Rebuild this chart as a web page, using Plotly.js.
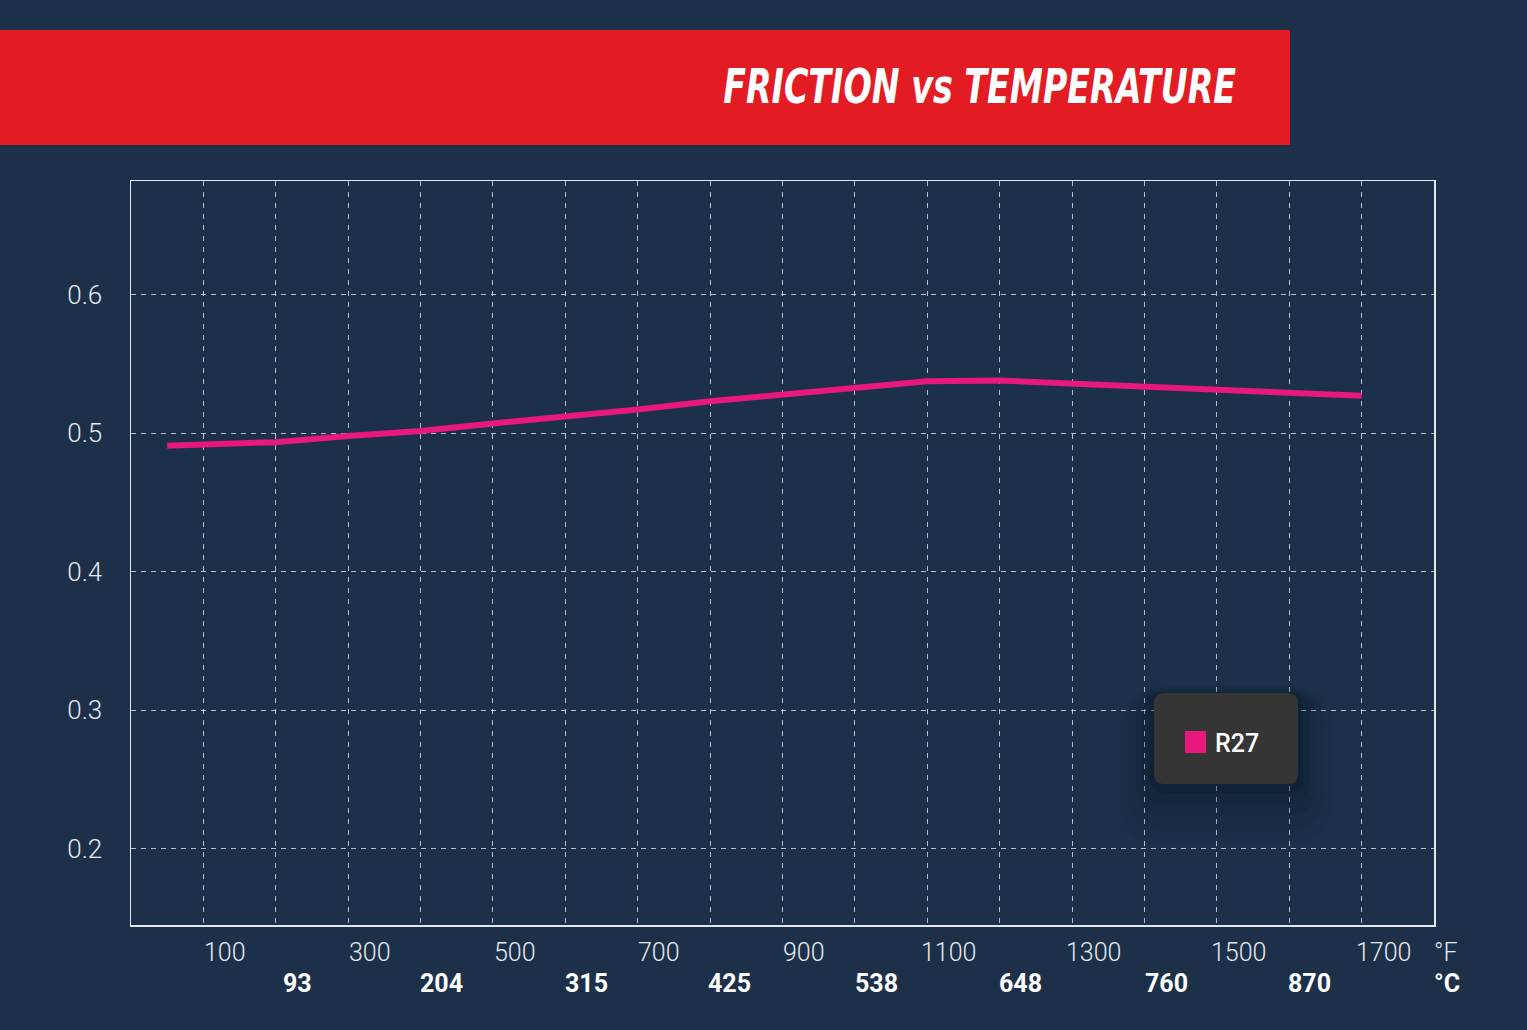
<!DOCTYPE html>
<html>
<head>
<meta charset="utf-8">
<script src="https://cdn.plot.ly/plotly-3.0.1.min.js"></script>
<style>
  html, body { margin: 0; padding: 0; background: #1c3049; }
  #chart { width: 1527px; height: 1030px; }
</style>
</head>
<body>
<div id="chart"></div>
<script>
// friction coefficient, x in degrees F
var tempF = [20, 170, 270, 370, 470, 570, 670, 770, 870, 970, 1070, 1170, 1270, 1370, 1470, 1570, 1670];
var frictionR27 = [0.491, 0.4935, 0.498, 0.5015, 0.507, 0.5115, 0.517, 0.523, 0.528, 0.533, 0.5375, 0.538, 0.536, 0.534, 0.531, 0.5295, 0.527];

var fLabels = [100, 300, 500, 700, 900, 1100, 1300, 1500, 1700];
var cLabels = [93, 204, 315, 425, 538, 648, 760, 870];
var yTicks = [0.2, 0.3, 0.4, 0.5, 0.6];

var chartTitle = "FRICTION vs TEMPERATURE";
var seriesName = "R27";
var pink = "#e8197d";

// plot area in pixels
var L = 131, R = 1434, T = 181, B = 925;
var W = R - L, H = B - T;
function px(x) { return (x - L) / W; }
function py(y) { return (B - y) / H; }

function roundRect(x0, y0, x1, y1, r) {
  var a = px(x0), b = px(x1), c = py(y0), d = py(y1);
  var rx = r / W, ry = r / H;
  return "M" + (a + rx) + "," + c +
    " L" + (b - rx) + "," + c + " Q" + b + "," + c + " " + b + "," + (c - ry) +
    " L" + b + "," + (d + ry) + " Q" + b + "," + d + " " + (b - rx) + "," + d +
    " L" + (a + rx) + "," + d + " Q" + a + "," + d + " " + a + "," + (d + ry) +
    " L" + a + "," + (c - ry) + " Q" + a + "," + c + " " + (a + rx) + "," + c + " Z";
}

var trace = {
  x: tempF,
  y: frictionR27,
  name: seriesName,
  type: "scatter",
  mode: "lines",
  line: { color: pink, width: 6 },
  hoverinfo: "skip"
};

var tickFont = { family: "Roboto", size: 25, color: "#e6e9ee", weight: 300 };
var boldFont = { family: "Roboto", size: 25, color: "#ffffff", weight: 700 };

var annotations = [];
fLabels.forEach(function (f) {
  annotations.push({
    x: f, y: py(952), xref: "x", yref: "paper",
    text: String(f), showarrow: false, xanchor: "center", yanchor: "middle",
    font: tickFont
  });
});
cLabels.forEach(function (c) {
  annotations.push({
    x: c * 9 / 5 + 32, y: py(983), xref: "x", yref: "paper",
    text: String(c), showarrow: false, xanchor: "center", yanchor: "middle",
    font: boldFont
  });
});
annotations.push({
  x: px(1446), y: py(952), xref: "paper", yref: "paper", text: "°F",
  showarrow: false, xanchor: "center", yanchor: "middle", font: tickFont
});
annotations.push({
  x: px(1447), y: py(983), xref: "paper", yref: "paper", text: "°C",
  showarrow: false, xanchor: "center", yanchor: "middle", font: boldFont
});
// title on the red banner (squeezed to the narrow width after drawing)
var titleLeft = 723, titleRight = 1236;
annotations.push({
  x: px((titleLeft + titleRight) / 2), y: py(86), xref: "paper", yref: "paper",
  text: "<b><i>" + chartTitle + "</i></b>",
  showarrow: false, xanchor: "center", yanchor: "middle",
  font: { family: "DejaVu Sans Condensed, DejaVu Sans, sans-serif", stretch: "condensed", size: 48, color: "#ffffff" }
});
// legend label
annotations.push({
  x: px(1213), y: py(743), xref: "paper", yref: "paper", text: seriesName,
  showarrow: false, xanchor: "left", yanchor: "middle",
  font: { family: "Roboto", size: 25, color: "#ffffff", weight: 500 }
});

var shapes = [
  { type: "rect", xref: "paper", yref: "paper", layer: "below",
    x0: px(0), x1: px(1290), y0: py(145), y1: py(30),
    fillcolor: "#e31b23", line: { width: 0 } }
];
// soft shadow under the legend box
[[34, 0.04], [26, 0.05], [18, 0.07], [11, 0.09], [5, 0.12]].forEach(function (s) {
  shapes.push({
    type: "path", xref: "paper", yref: "paper", layer: "above",
    path: roundRect(1154 - s[0], 693 - s[0] * 0.2, 1298 + s[0], 784 + s[0] * 1.8, 12 + s[0]),
    fillcolor: "rgba(5,10,20," + s[1] + ")", line: { width: 0 }
  });
});
shapes.push({
  type: "path", xref: "paper", yref: "paper", layer: "above",
  path: roundRect(1154, 693, 1298, 784, 10),
  fillcolor: "#353535", line: { width: 0 }
});
shapes.push({
  type: "rect", xref: "paper", yref: "paper", layer: "above",
  x0: px(1185), x1: px(1206), y0: py(753), y1: py(731),
  fillcolor: pink, line: { width: 0 }
});

var gridColor = "rgba(235,238,245,0.75)";

var layout = {
  width: 1527,
  height: 1030,
  margin: { l: L, r: 1527 - R, t: T, b: 1030 - B, pad: 0 },
  paper_bgcolor: "#1c3049",
  plot_bgcolor: "#1c3049",
  showlegend: false,
  xaxis: {
    range: [-30, 1770],
    tick0: 70,
    dtick: 100,
    showticklabels: false,
    ticks: "",
    showgrid: true,
    gridcolor: gridColor,
    gridwidth: 1,
    griddash: "5px,6px",
    zeroline: false,
    showline: true,
    mirror: true,
    linecolor: "#e4e8ee",
    linewidth: 1.5
  },
  yaxis: {
    range: [0.145, 0.682],
    tickvals: yTicks,
    ticktext: yTicks.map(function (v) { return v.toFixed(1); }),
    ticks: "",
    ticklabelstandoff: 22,
    tickfont: { family: "Roboto", size: 26, color: "#e6e9ee", weight: 300 },
    showgrid: true,
    gridcolor: gridColor,
    gridwidth: 1,
    griddash: "5px,5px",
    zeroline: false,
    showline: true,
    mirror: true,
    linecolor: "#e4e8ee",
    linewidth: 1.5
  },
  annotations: annotations,
  shapes: shapes
};

Plotly.newPlot("chart", [trace], layout, { displayModeBar: false, staticPlot: true }).then(function (gd) {
  // the reference title uses a very condensed face; squeeze the text to its width
  gd.querySelectorAll(".annotation-text").forEach(function (t) {
    if (t.textContent === chartTitle) {
      t.setAttribute("textLength", titleRight - titleLeft);
      t.setAttribute("lengthAdjust", "spacingAndGlyphs");
    }
  });
});
</script>
</body>
</html>
